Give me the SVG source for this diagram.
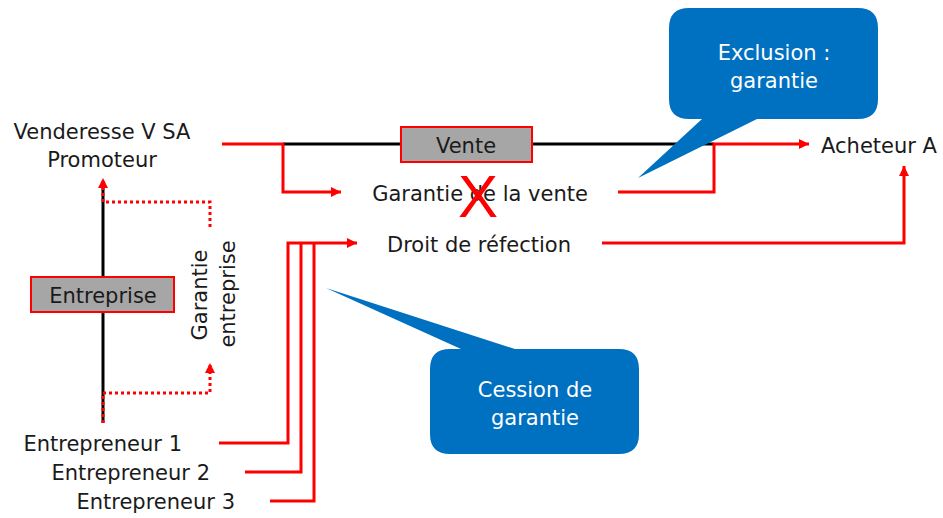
<svg xmlns="http://www.w3.org/2000/svg" width="943" height="518" viewBox="0 0 943 518">
<defs>
<marker id="ah" viewBox="0 0 10 10" refX="10" refY="5" markerWidth="10" markerHeight="10" markerUnits="userSpaceOnUse" orient="auto">
<path d="M0,0 L10,5 L0,10 Z" fill="#FF0000"/>
</marker>
</defs>
<style>
.t{font-family:"DejaVu Sans","Liberation Sans",sans-serif;font-size:21px;fill:#1a1a1a}
.w{font-family:"DejaVu Sans","Liberation Sans",sans-serif;font-size:21px;fill:#ffffff}
.r{fill:none;stroke:#FF0000;stroke-width:3}
.rd{fill:none;stroke:#FF0000;stroke-width:3;stroke-dasharray:3 3}
.k{fill:none;stroke:#000000;stroke-width:3}
.box{fill:#A6A6A6;stroke:#FF0000;stroke-width:2}
.call{fill:#0070C0}
</style>
<rect width="943" height="518" fill="#ffffff"/>
<g id="connectors">
<line class="k" x1="283" y1="144" x2="714" y2="144"/>
<line class="k" x1="103" y1="188" x2="103" y2="423"/>
<path class="r" d="M222,144 H283 V192 H341" marker-end="url(#ah)"/>
<path class="r" d="M618,192 H714 V144 H809" marker-end="url(#ah)"/>
<path class="r" d="M602,243 H904 V166" marker-end="url(#ah)"/>
<path class="r" d="M219,443 H288 V243 H357" marker-end="url(#ah)"/>
<path class="r" d="M245,472 H301 V243"/>
<path class="r" d="M270,501 H314 V243"/>
<path class="rd" d="M210,227 V202 H103 V178" marker-end="url(#ah)"/>
<path class="rd" d="M103,423 V393 H210 V363" marker-end="url(#ah)"/>
</g>
<g id="vendeur">
<text class="t" x="102" y="139" text-anchor="middle">Venderesse V SA</text>
<text class="t" x="102" y="167" text-anchor="middle">Promoteur</text>
</g>
<g id="acheteur">
<text class="t" x="879" y="153" text-anchor="middle">Acheteur A</text>
</g>
<g id="vente">
<rect class="box" x="401" y="127" width="131" height="35"/>
<text class="t" x="466" y="153" text-anchor="middle">Vente</text>
</g>
<g id="garantie-vente">
<text class="t" x="480" y="201" text-anchor="middle">Garantie de la vente</text>
<text x="478" y="217" text-anchor="middle" style="font-family:'Liberation Sans',sans-serif;font-size:60px;fill:#FF0000">X</text>
</g>
<g id="droit-refection">
<text class="t" x="479" y="252" text-anchor="middle">Droit de réfection</text>
</g>
<g id="entreprise">
<rect class="box" x="31" y="277" width="143" height="35"/>
<text class="t" x="103" y="303" text-anchor="middle">Entreprise</text>
</g>
<g id="garantie-entreprise">
<text class="t" transform="translate(207,295) rotate(-90)" text-anchor="middle">Garantie</text>
<text class="t" transform="translate(235,294) rotate(-90)" text-anchor="middle">entreprise</text>
</g>
<g id="entrepreneurs">
<text class="t" x="182" y="451" text-anchor="end">Entrepreneur 1</text>
<text class="t" x="210" y="480" text-anchor="end">Entrepreneur 2</text>
<text class="t" x="235" y="509" text-anchor="end">Entrepreneur 3</text>
</g>
<g id="callout-exclusion">
<path class="call" d="M689,8 H858 Q878,8 878,28 V99 Q878,119 858,119 H757 L638,178 L702,119 H689 Q669,119 669,99 V28 Q669,8 689,8 Z"/>
<text class="w" x="774" y="60" text-anchor="middle">Exclusion :</text>
<text class="w" x="774" y="88" text-anchor="middle">garantie</text>
</g>
<g id="callout-cession">
<path class="call" d="M450,349 H461 L326,288 L515,349 H619 Q639,349 639,369 V434 Q639,454 619,454 H450 Q430,454 430,434 V369 Q430,349 450,349 Z"/>
<text class="w" x="535" y="397" text-anchor="middle">Cession de</text>
<text class="w" x="535" y="425" text-anchor="middle">garantie</text>
</g>
</svg>
